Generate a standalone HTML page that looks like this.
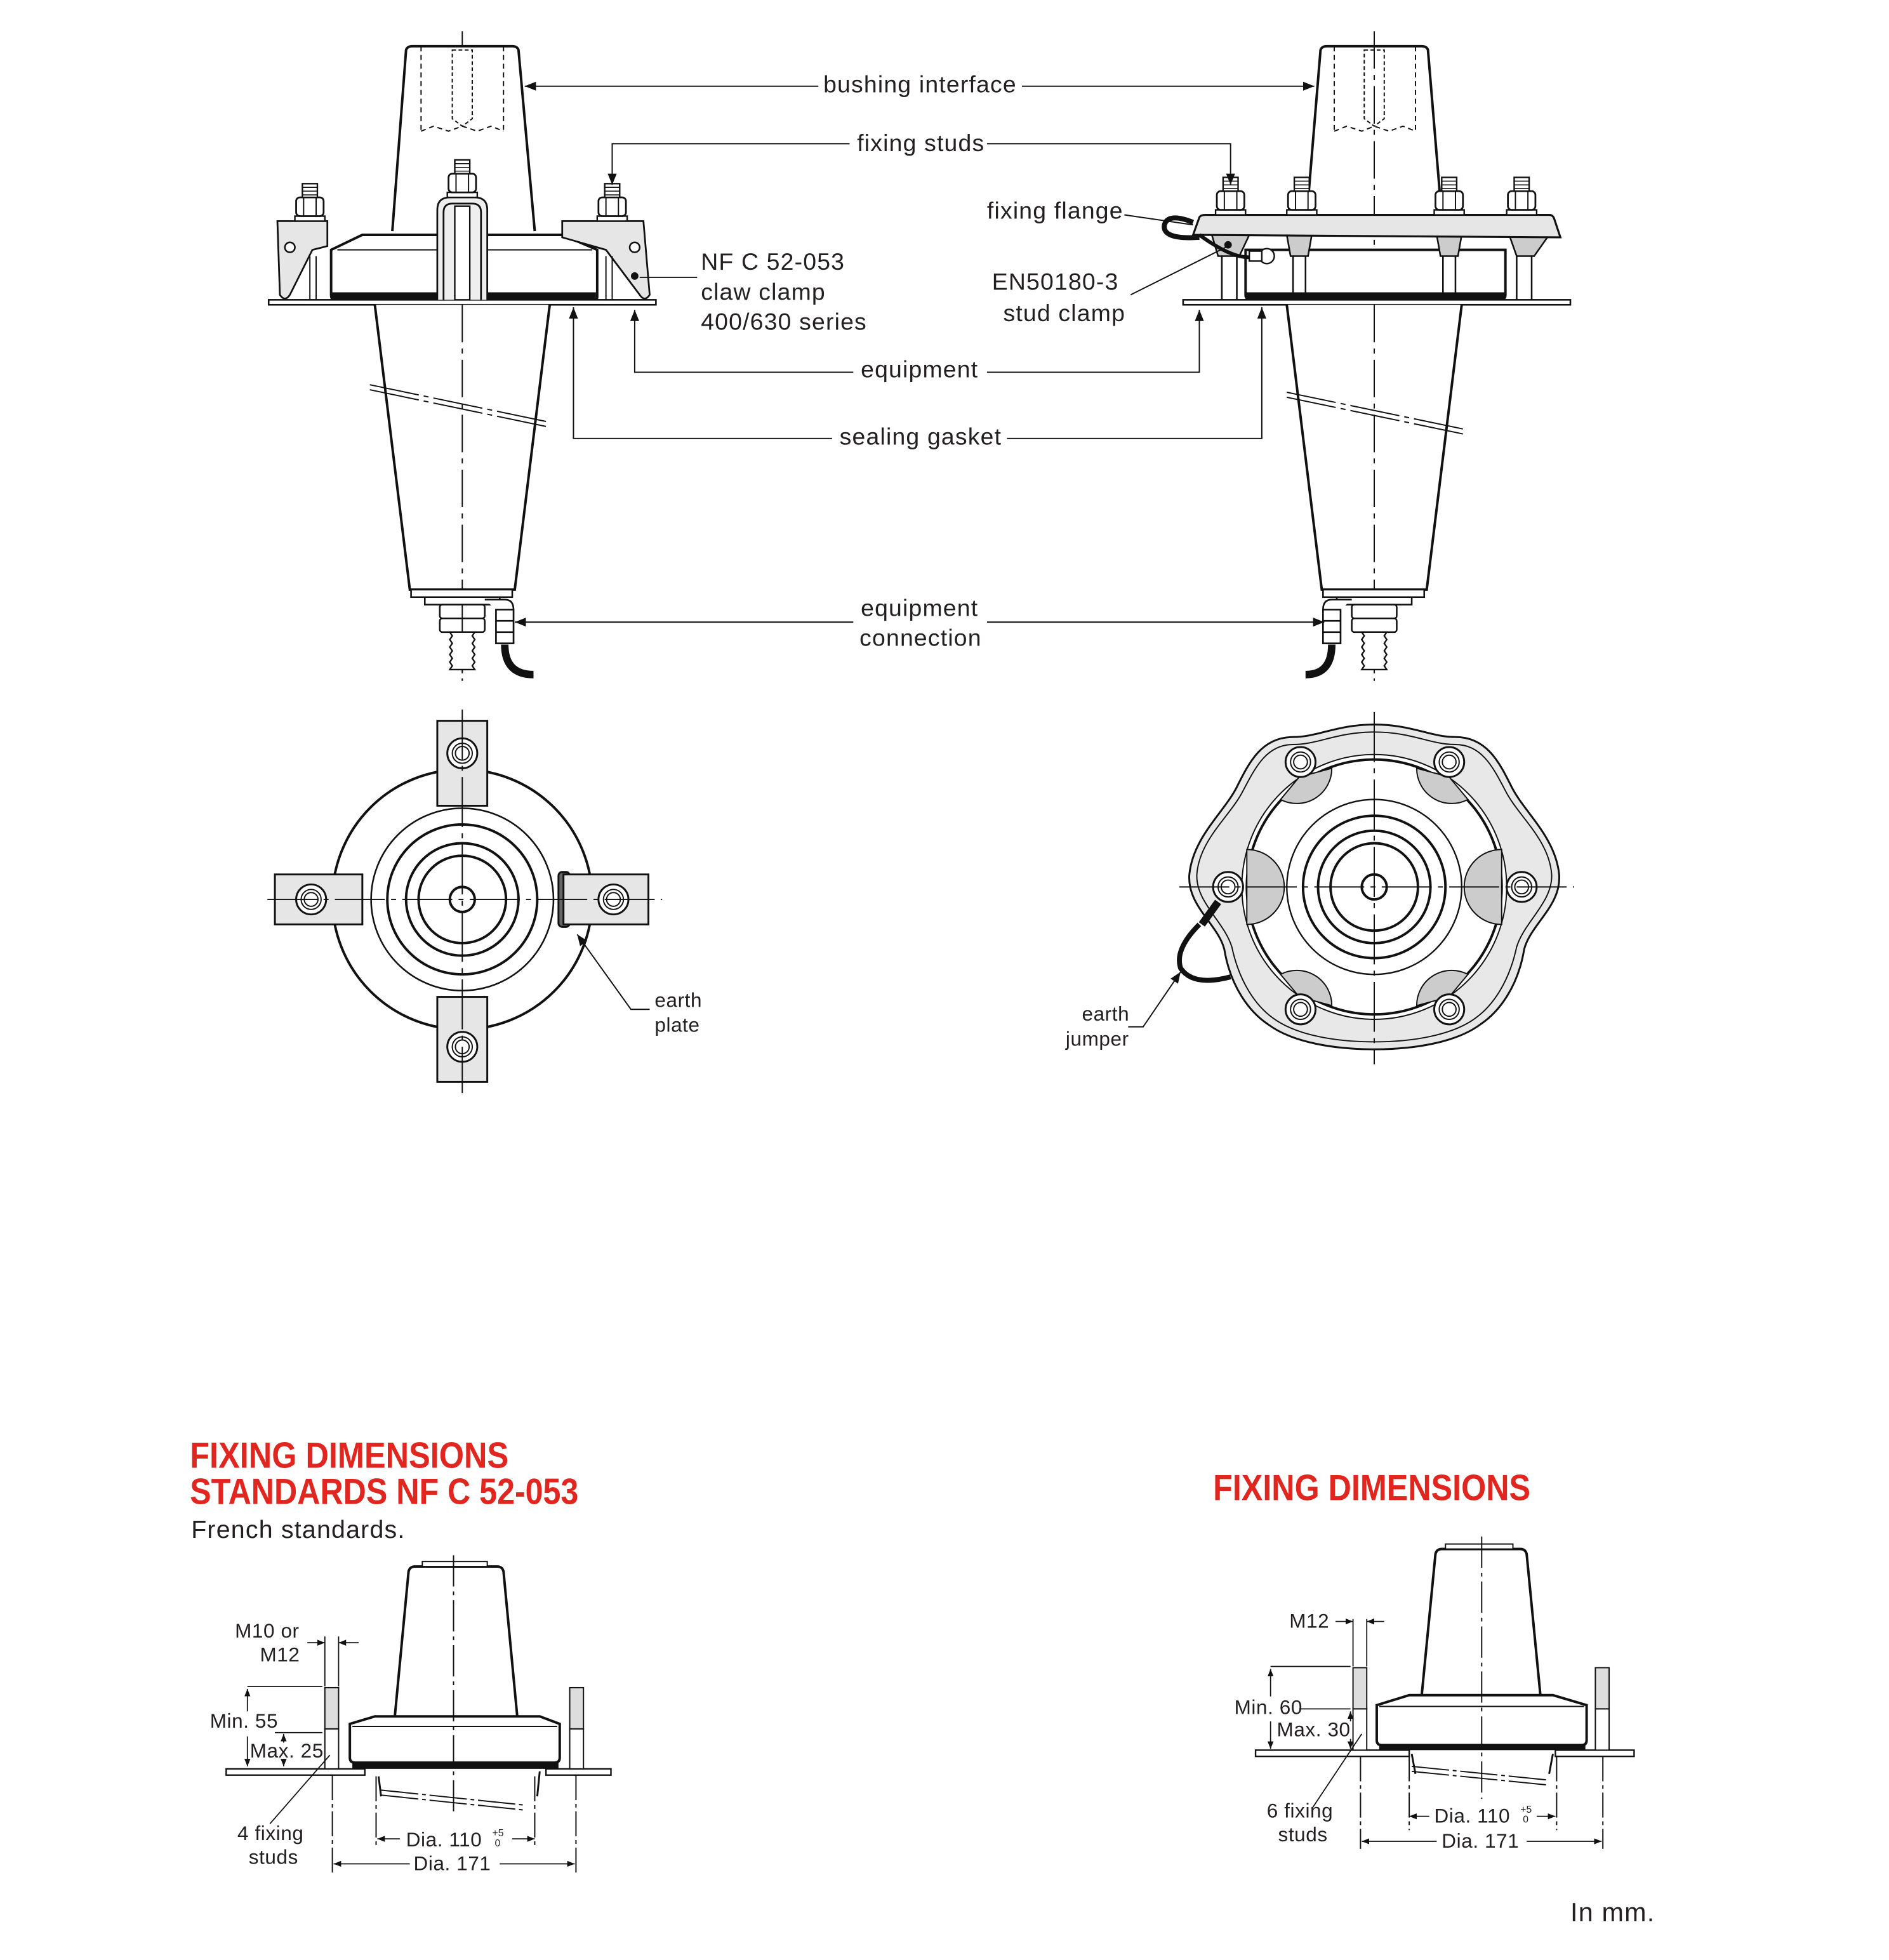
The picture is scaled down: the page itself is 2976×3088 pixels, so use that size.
<!DOCTYPE html>
<html><head><meta charset="utf-8"><style>
html,body{margin:0;padding:0;background:#fff;}
svg{display:block;}
text{font-family:"Liberation Sans",sans-serif;fill:#231f20;}
.lb{font-size:19px;letter-spacing:0.6px;}
.sm{font-size:16px;letter-spacing:0.3px;}
.red{font-family:"Liberation Sans Narrow","Liberation Sans",sans-serif;font-size:29px;font-weight:bold;fill:#e0261f;}
</style></head><body>
<svg width="2976" height="3088" viewBox="0 0 1512 1569" xmlns="http://www.w3.org/2000/svg">
<defs>
<marker id="ar" viewBox="0 0 10 10" refX="10" refY="5" markerWidth="9" markerHeight="9" orient="auto-start-reverse" markerUnits="userSpaceOnUse"><path d="M0,1 L10,5 L0,9z" fill="#111"/></marker>
<marker id="as" viewBox="0 0 10 10" refX="10" refY="5" markerWidth="6" markerHeight="6" orient="auto-start-reverse" markerUnits="userSpaceOnUse"><path d="M0,1 L10,5 L0,9z" fill="#111"/></marker>
<g id="nut">
 <rect x="-12" y="-4" width="24" height="4" fill="#fff" stroke="#111" stroke-width="1.2"/>
 <rect x="-11" y="-19" width="22" height="15" rx="3" fill="#fff" stroke="#111" stroke-width="1.4"/>
 <line x1="-5" y1="-19" x2="-5" y2="-4" stroke="#111"/><line x1="5" y1="-19" x2="5" y2="-4" stroke="#111"/>
 <rect x="-6" y="-30" width="12" height="11" fill="#fff" stroke="#111" stroke-width="1.2"/>
 <path d="M-6,-27 H6 M-6,-24 H6 M-6,-21 H6" stroke="#111" stroke-width="0.8"/>
</g>
<g id="pbolt">
 <circle r="12" fill="#fff" stroke="#111" stroke-width="1.5"/><circle r="8" fill="none" stroke="#111"/><circle r="5.5" fill="none" stroke="#111"/>
</g>
</defs>
<g stroke="#111" fill="none" stroke-linecap="butt">

<!-- ===== LEFT ELEVATION ===== -->
<line x1="370" y1="25" x2="370" y2="545" stroke-width="1" stroke-dasharray="30,5,4,5"/>
<path d="M314,185 L325,40 Q326,37 330,37 L410,37 Q414,37 415,40 L428,185" fill="#fff" stroke-width="2"/>
<path d="M337,37 V105 M403,37 V105 M337,105 l10,-4 l12,4 l11,-4 l12,4 l11,-4 l10,4" stroke-width="1" stroke-dasharray="4,3"/>
<path d="M362,40 h16 v55 l-8,6 l-8,-6z" stroke-width="1" stroke-dasharray="3,2"/>
<path d="M265,200 L290,188 L450,188 L478,200 L478,238 Q478,240 474,240 L268,240 Q265,240 265,236z" fill="#fff" stroke-width="2"/>
<line x1="270" y1="200" x2="474" y2="200" stroke-width="1"/>
<rect x="265" y="234" width="212" height="7" fill="#111" stroke="none"/>
<rect x="215" y="240" width="310" height="4" fill="#fff" stroke-width="1.3"/>
<path d="M222,177 L262,177 L262,197 L250,200 L232,236 Q228,242 224,236 Z" fill="#e6e6e6" stroke-width="1.4"/>
<circle cx="232" cy="198" r="4" fill="#fff" stroke-width="1.3"/>
<path d="M450,177 L515,177 L520,236 Q516,242 512,236 L485,200 L450,190 Z" fill="#e6e6e6" stroke-width="1.4"/>
<circle cx="508" cy="198" r="4" fill="#fff" stroke-width="1.3"/>
<circle cx="508" cy="221" r="3" fill="#111" stroke="none"/>
<path d="M248,205 V240 M253,205 V240 M485,205 V240 M490,205 V240" stroke-width="1"/>
<path d="M350,240 V168 Q350,158 360,158 H380 Q390,158 390,168 V240 M355,240 V170 Q355,163 362,163 H378 Q385,163 385,170 V240" fill="#eee" stroke-width="1.4"/>
<rect x="364" y="165" width="12" height="75" fill="#fff" stroke-width="1.2"/>
<use href="#nut" x="248" y="177"/><use href="#nut" x="370" y="158"/><use href="#nut" x="490" y="177"/>
<path d="M300,244 L328,472 L412,472 L440,244" fill="#fff" stroke-width="2"/>
<line x1="370" y1="244" x2="370" y2="545" stroke-width="1" stroke-dasharray="30,5,4,5"/>
<path d="M296,308 L440,338 M296,312 L440,342" stroke-width="1" stroke-dasharray="40,4,4,4"/>
<path d="M329,472 H410 V478 H329z M340,478 H400 V484 H340z" fill="#fff" stroke-width="1.3"/>
<rect x="352" y="484" width="36" height="11" rx="2" fill="#fff" stroke-width="1.3"/>
<rect x="352" y="495" width="36" height="11" rx="2" fill="#fff" stroke-width="1.3"/>
<path d="M370,484 V506" stroke-width="1"/>
<path d="M360,506 h20 l-2,3 l2,3 l-2,3 l2,3 l-2,3 l2,3 l-2,3 l2,3 l-2,3 l2,3 h-20 l2,-3 l-2,-3 l2,-3 l-2,-3 l2,-3 l-2,-3 l2,-3 l-2,-3 l2,-3z" fill="#fff" stroke-width="1.2"/>
<path d="M388,480 H404 Q411,480 411,488 V515 H397 V488" fill="#fff" stroke-width="1.3"/>
<rect x="397" y="488" width="14" height="27" fill="#fff" stroke-width="1.3"/>
<path d="M397,497 H411 M397,506 H411" stroke-width="1.3"/>
<path d="M404,516 Q404,540 427,540" stroke-width="6"/>

<!-- ===== RIGHT ELEVATION ===== -->
<path d="M1045,185 L1057,40 Q1058,37 1062,37 L1138,37 Q1142,37 1143,40 L1155,185" fill="#fff" stroke-width="2"/>
<path d="M1068,37 V105 M1133,37 V105 M1068,105 l10,-4 l12,4 l10,-4 l12,4 l11,-4 l10,4" stroke-width="1" stroke-dasharray="4,3"/>
<path d="M1092,40 h16 v55 l-8,6 l-8,-6z" stroke-width="1" stroke-dasharray="3,2"/>
<line x1="1100" y1="25" x2="1100" y2="545" stroke-width="1" stroke-dasharray="30,5,4,5"/>
<path d="M997,200 H1205 V236 Q1205,240 1200,240 H1002 Q997,240 997,236z" fill="#fff" stroke-width="2"/>
<rect x="997" y="234" width="208" height="7" fill="#111" stroke="none"/>
<path d="M978,190 V240 M990,190 V240 M1035,190 V234 M1045,190 V234 M1155,190 V234 M1165,190 V234 M1214,190 V240 M1226,190 V240" stroke-width="1.3"/>
<path d="M970,188 L1000,188 L992,205 L975,205z M1030,188 H1050 L1047,205 H1033z M1150,188 H1170 L1167,205 H1153z M1208,188 L1240,188 L1228,205 L1214,205z" fill="#ccc" stroke-width="1.3"/>
<path d="M955,188 L960,174 Q961,172 965,172 L1240,172 Q1243,172 1244,175 L1249,190 Z" fill="#e6e6e6" stroke-width="1.6"/>
<rect x="947" y="240" width="310" height="4" fill="#fff" stroke-width="1.3"/>
<use href="#nut" x="985" y="172"/><use href="#nut" x="1042" y="172"/><use href="#nut" x="1160" y="172"/><use href="#nut" x="1218" y="172"/>
<circle cx="983" cy="196" r="3" fill="#111" stroke="none"/>
<path d="M955,178 Q935,170 932,180 Q930,192 960,190" stroke-width="4"/>
<path d="M960,188 Q990,210 1005,205" stroke-width="3"/>
<circle cx="1014" cy="205" r="6" fill="#fff" stroke-width="1.2"/><rect x="1000" y="201" width="10" height="8" fill="#fff" stroke-width="1.2"/>
<path d="M1030,244 L1058,472 L1142,472 L1170,244" fill="#fff" stroke-width="2"/>
<line x1="1100" y1="244" x2="1100" y2="545" stroke-width="1" stroke-dasharray="30,5,4,5"/>
<path d="M1030,314 L1174,344 M1030,318 L1174,348" stroke-width="1" stroke-dasharray="40,4,4,4"/>
<path d="M1059,472 H1140 V478 H1059z M1070,478 H1130 V484 H1070z" fill="#fff" stroke-width="1.3"/>
<rect x="1082" y="484" width="36" height="11" rx="2" fill="#fff" stroke-width="1.3"/>
<rect x="1082" y="495" width="36" height="11" rx="2" fill="#fff" stroke-width="1.3"/>
<path d="M1090,506 h20 l-2,3 l2,3 l-2,3 l2,3 l-2,3 l2,3 l-2,3 l2,3 l-2,3 l2,3 h-20 l2,-3 l-2,-3 l2,-3 l-2,-3 l2,-3 l-2,-3 l2,-3 l-2,-3 l2,-3z" fill="#fff" stroke-width="1.2"/>
<path d="M1082,480 H1066 Q1059,480 1059,488 V515 H1073 V488" fill="#fff" stroke-width="1.3"/>
<rect x="1059" y="488" width="14" height="27" fill="#fff" stroke-width="1.3"/>
<path d="M1059,497 H1073 M1059,506 H1073" stroke-width="1.3"/>
<path d="M1066,516 Q1066,540 1045,540" stroke-width="6"/>

<!-- ===== LEADERS ===== -->
<g stroke-width="1">
<path d="M655,69 H420" marker-end="url(#ar)"/><path d="M818,69 H1052" marker-end="url(#ar)"/>
<path d="M680,115 H490 V148" marker-end="url(#ar)"/><path d="M790,115 H985 V148" marker-end="url(#ar)"/>
<path d="M558,222 H512"/>
<path d="M900,172 L955,180"/>
<path d="M905,236 L985,196"/>
<path d="M683,298 H508 V248" marker-end="url(#ar)"/><path d="M790,298 H960 V248" marker-end="url(#ar)"/>
<path d="M666,351 H459 V246" marker-end="url(#ar)"/><path d="M806,351 H1010 V246" marker-end="url(#ar)"/>
<path d="M683,498 H412" marker-end="url(#ar)"/><path d="M790,498 H1060" marker-end="url(#ar)"/>
<path d="M520,808 H505 L462,748" marker-end="url(#ar)"/>
<path d="M903,822 H915 L945,778" marker-end="url(#ar)"/>
</g>

<!-- ===== LEFT PLAN ===== -->
<circle cx="370" cy="720" r="104" stroke-width="2"/>
<circle cx="370" cy="720" r="73" stroke-width="1.3"/>
<circle cx="370" cy="720" r="60" stroke-width="2"/>
<circle cx="370" cy="720" r="45" stroke-width="2"/>
<circle cx="370" cy="720" r="35" stroke-width="2"/>
<circle cx="370" cy="720" r="10" stroke-width="2"/>
<rect x="350" y="577" width="40" height="68" fill="#e6e6e6" stroke-width="1.5"/>
<rect x="350" y="798" width="40" height="68" fill="#e6e6e6" stroke-width="1.5"/>
<rect x="220" y="700" width="70" height="40" fill="#e6e6e6" stroke-width="1.5"/>
<rect x="447" y="698" width="9" height="44" rx="3" fill="#666" stroke-width="1.5"/>
<rect x="451" y="700" width="68" height="40" fill="#e6e6e6" stroke-width="1.5"/>
<use href="#pbolt" x="370" y="603"/><use href="#pbolt" x="370" y="838"/><use href="#pbolt" x="249" y="720"/><use href="#pbolt" x="491" y="720"/>
<line x1="370" y1="568" x2="370" y2="875" stroke-width="1" stroke-dasharray="40,5,4,5"/>
<line x1="214" y1="720" x2="530" y2="720" stroke-width="1" stroke-dasharray="40,5,4,5"/>

<!-- ===== RIGHT PLAN ===== -->
<path d="M1100,580 C1130,580 1145,590 1165,590 C1190,590 1200,610 1210,630 C1220,650 1245,670 1248,700 C1250,725 1225,740 1220,760 C1215,790 1200,810 1185,820 C1165,835 1130,840 1100,840 C1070,840 1035,835 1015,820 C1000,810 985,790 980,760 C975,740 950,725 952,700 C955,670 980,650 990,630 C1000,610 1010,590 1035,590 C1055,590 1070,580 1100,580Z" fill="#e8e8e8" stroke-width="1.5"/>
<path d="M1100,586 C1130,586 1145,596 1165,596 C1186,596 1195,614 1205,633 C1215,653 1240,672 1242,700 C1243,722 1220,738 1214,758 C1208,786 1195,805 1181,815 C1162,829 1130,834 1100,834 C1070,834 1038,829 1019,815 C1005,805 992,786 986,758 C980,738 957,722 958,700 C960,672 985,653 995,633 C1005,614 1014,596 1035,596 C1055,596 1070,586 1100,586Z" stroke-width="1"/>
<circle cx="1100" cy="710" r="106" fill="#fff" stroke-width="1"/>
<circle cx="1100" cy="710" r="102" stroke-width="2"/>
<g fill="#ccc" stroke-width="1">
<path d="M1066,615 A28,28 0 0 1 1025,640 L1040,622z"/>
<path d="M1134,615 A28,28 0 0 0 1175,640 L1160,622z"/>
<path d="M1066,805 A28,28 0 0 0 1025,780 L1040,798z"/>
<path d="M1134,805 A28,28 0 0 1 1175,780 L1160,798z"/>
<path d="M998,680 A30,30 0 0 1 998,740z"/>
<path d="M1202,680 A30,30 0 0 0 1202,740z"/>
</g>
<circle cx="1100" cy="710" r="70" stroke-width="1.2"/>
<circle cx="1100" cy="710" r="57" stroke-width="2"/>
<circle cx="1100" cy="710" r="45" stroke-width="2"/>
<circle cx="1100" cy="710" r="35" stroke-width="2"/>
<circle cx="1100" cy="710" r="10" stroke-width="2"/>
<use href="#pbolt" x="1041" y="610"/><use href="#pbolt" x="1160" y="610"/><use href="#pbolt" x="983" y="710"/><use href="#pbolt" x="1218" y="710"/><use href="#pbolt" x="1041" y="808"/><use href="#pbolt" x="1160" y="808"/>
<line x1="1100" y1="570" x2="1100" y2="852" stroke-width="1" stroke-dasharray="40,5,4,5"/>
<line x1="944" y1="710" x2="1260" y2="710" stroke-width="1" stroke-dasharray="40,5,4,5"/>
<path d="M975,722 L962,740" stroke-width="6"/>
<path d="M960,740 Q940,760 945,775 Q955,790 985,782" stroke-width="4"/>

<!-- ===== BOTTOM LEFT DIMENSION DRAWING ===== -->
<path d="M316,1374 L327,1258 Q328,1254 332,1254 L398,1254 Q402,1254 403,1258 L414,1374" fill="#fff" stroke-width="2"/>
<rect x="338" y="1250" width="52" height="4" fill="#fff" stroke-width="1"/>
<path d="M280,1380 L300,1374 L432,1374 L448,1380 V1407 Q448,1411 444,1411 H284 Q280,1411 280,1407Z" fill="#fff" stroke-width="2"/>
<line x1="282" y1="1382" x2="446" y2="1382" stroke-width="1"/>
<rect x="282" y="1411" width="165" height="5" fill="#111" stroke="none"/>
<rect x="181" y="1416" width="111" height="5" fill="#fff" stroke-width="1.2"/>
<rect x="437" y="1416" width="52" height="5" fill="#fff" stroke-width="1.2"/>
<path d="M303,1422 L305,1438 M432,1418 L430,1438" stroke-width="1.5"/>
<path d="M305,1433 L420,1445 M305,1437 L420,1449" stroke-width="1" stroke-dasharray="30,3,3,3"/>
<line x1="363" y1="1245" x2="363" y2="1450" stroke-width="1" stroke-dasharray="25,4,3,4"/>
<rect x="260" y="1351" width="11" height="33" fill="#ddd" stroke-width="1"/><rect x="260" y="1384" width="11" height="32" fill="#fff" stroke-width="1"/>
<rect x="456" y="1351" width="11" height="33" fill="#ddd" stroke-width="1"/><rect x="456" y="1384" width="11" height="32" fill="#fff" stroke-width="1"/>
<path d="M266,1421 V1500 M461,1421 V1500 M301,1422 V1478 M428,1422 V1478" stroke-width="1" stroke-dasharray="20,3,3,3"/>
<g stroke-width="0.9">
<path d="M260,1350 V1310 M271,1350 V1310"/>
<path d="M246,1315 H260" marker-end="url(#as)"/><path d="M287,1315 H271" marker-end="url(#as)"/>
<path d="M198,1350 H258 M220,1387 H258"/>
<path d="M198,1370 V1352" marker-end="url(#as)"/><path d="M198,1390 V1414" marker-end="url(#as)"/>
<path d="M227,1395 V1388" marker-end="url(#as)"/><path d="M227,1408 V1414" marker-end="url(#as)"/>
<path d="M216,1460 L264,1405"/>
<path d="M320,1472 H302" marker-end="url(#as)"/><path d="M410,1472 H428" marker-end="url(#as)"/>
<path d="M328,1492 H267" marker-end="url(#as)"/><path d="M400,1492 H460" marker-end="url(#as)"/>
</g>

<!-- ===== BOTTOM RIGHT DIMENSION DRAWING ===== -->
<path d="M1138,1357 L1149,1244 Q1150,1240 1154,1240 L1217,1240 Q1221,1240 1222,1244 L1233,1357" fill="#fff" stroke-width="2"/>
<rect x="1157" y="1236" width="54" height="4" fill="#fff" stroke-width="1"/>
<path d="M1102,1365 L1128,1357 L1243,1357 L1270,1365 V1393 Q1270,1397 1266,1397 H1106 Q1102,1397 1102,1393Z" fill="#fff" stroke-width="2"/>
<line x1="1104" y1="1366" x2="1268" y2="1366" stroke-width="1"/>
<rect x="1104" y="1397" width="165" height="4" fill="#111" stroke="none"/>
<rect x="1005" y="1401" width="123" height="5" fill="#fff" stroke-width="1.2"/>
<rect x="1245" y="1401" width="63" height="5" fill="#fff" stroke-width="1.2"/>
<path d="M1130,1404 L1133,1420 M1243,1404 L1240,1420" stroke-width="1.5"/>
<path d="M1130,1414 L1240,1425 M1130,1418 L1240,1429" stroke-width="1" stroke-dasharray="30,3,3,3"/>
<line x1="1186" y1="1230" x2="1186" y2="1440" stroke-width="1" stroke-dasharray="25,4,3,4"/>
<rect x="1083" y="1335" width="11" height="33" fill="#ddd" stroke-width="1"/><rect x="1083" y="1368" width="11" height="33" fill="#fff" stroke-width="1"/>
<rect x="1277" y="1335" width="11" height="33" fill="#ddd" stroke-width="1"/><rect x="1277" y="1368" width="11" height="33" fill="#fff" stroke-width="1"/>
<path d="M1089,1406 V1480 M1283,1406 V1480 M1128,1406 V1465 M1246,1406 V1465" stroke-width="1" stroke-dasharray="20,3,3,3"/>
<g stroke-width="0.9">
<path d="M1083,1334 V1296 M1094,1334 V1296"/>
<path d="M1069,1298 H1083" marker-end="url(#as)"/><path d="M1108,1298 H1094" marker-end="url(#as)"/>
<path d="M1017,1334 H1081 M1040,1368 H1081"/>
<path d="M1017,1358 V1336" marker-end="url(#as)"/><path d="M1017,1378 V1400" marker-end="url(#as)"/>
<path d="M1081,1378 V1370" marker-end="url(#as)"/><path d="M1081,1392 V1400" marker-end="url(#as)"/>
<path d="M1050,1448 L1090,1388"/>
<path d="M1144,1454 H1128" marker-end="url(#as)"/><path d="M1230,1454 H1245" marker-end="url(#as)"/>
<path d="M1150,1474 H1090" marker-end="url(#as)"/><path d="M1222,1474 H1282" marker-end="url(#as)"/>
</g>
</g>

<!-- ===== TEXT ===== -->
<text class="lb" x="659" y="74">bushing interface</text>
<text class="lb" x="686" y="121">fixing studs</text>
<text class="lb" x="790" y="175">fixing flange</text>
<text class="lb" x="561" y="216">NF C 52-053</text>
<text class="lb" x="561" y="240">claw clamp</text>
<text class="lb" x="561" y="264">400/630 series</text>
<text class="lb" x="794" y="232">EN50180-3</text>
<text class="lb" x="803" y="257">stud clamp</text>
<text class="lb" x="689" y="302">equipment</text>
<text class="lb" x="672" y="356">sealing gasket</text>
<text class="lb" x="689" y="493">equipment</text>
<text class="lb" x="688" y="517">connection</text>
<text class="sm" x="524" y="806">earth</text>
<text class="sm" x="524" y="826">plate</text>
<text class="sm" x="866" y="817">earth</text>
<text class="sm" x="853" y="837">jumper</text>

<text class="red" x="152" y="1175" textLength="255" lengthAdjust="spacingAndGlyphs">FIXING DIMENSIONS</text>
<text class="red" x="152" y="1204" textLength="311" lengthAdjust="spacingAndGlyphs">STANDARDS NF C 52-053</text>
<text class="lb" x="153" y="1231" style="font-size:20px">French standards.</text>
<text class="red" x="971" y="1201" textLength="254" lengthAdjust="spacingAndGlyphs">FIXING DIMENSIONS</text>

<text class="sm" x="188" y="1311">M10 or</text>
<text class="sm" x="208" y="1330">M12</text>
<text class="sm" x="168" y="1383">Min. 55</text>
<text class="sm" x="200" y="1407">Max. 25</text>
<text class="sm" x="190" y="1473">4 fixing</text>
<text class="sm" x="199" y="1492">studs</text>
<text class="sm" x="325" y="1478">Dia. 110</text><text x="394" y="1470" style="font-size:8px">+5</text><text x="396" y="1478" style="font-size:8px">0</text>
<text class="sm" x="331" y="1497">Dia. 171</text>

<text class="sm" x="1032" y="1303">M12</text>
<text class="sm" x="988" y="1372">Min. 60</text>
<text class="sm" x="1022" y="1390">Max. 30</text>
<text class="sm" x="1014" y="1455">6 fixing</text>
<text class="sm" x="1023" y="1474">studs</text>
<text class="sm" x="1148" y="1459">Dia. 110</text><text x="1217" y="1451" style="font-size:8px">+5</text><text x="1219" y="1459" style="font-size:8px">0</text>
<text class="sm" x="1154" y="1479">Dia. 171</text>

<text class="lb" x="1257" y="1538" style="font-size:21px">In mm.</text>
</svg>
</body></html>
